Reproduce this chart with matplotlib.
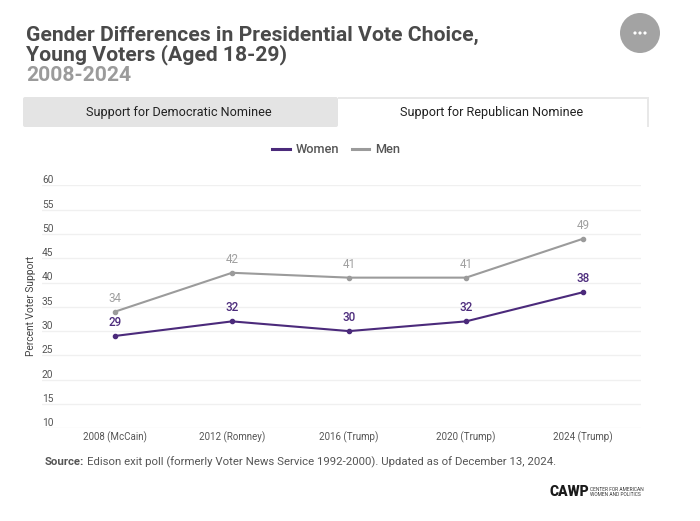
import matplotlib
matplotlib.use("Agg")
import matplotlib.pyplot as plt
from matplotlib.patches import Circle, FancyBboxPatch, Rectangle

plt.rcParams["font.family"] = ["Roboto", "DejaVu Sans"]

categories = ["2008 (McCain)", "2012 (Romney)", "2016 (Trump)", "2020 (Trump)", "2024 (Trump)"]
women = [29, 32, 30, 32, 38]
men = [34, 42, 41, 41, 49]
y_ticks = [10, 15, 20, 25, 30, 35, 40, 45, 50, 55, 60]

W, H = 700, 521
PURPLE = "#4b2a7b"
GRAY = "#9b9b9b"
x = list(range(len(categories)))

fig = plt.figure(figsize=(W / 100, H / 100), dpi=100, facecolor="white")

# page furniture in pixel coordinates
bg = fig.add_axes([0, 0, 1, 1])
bg.set_xlim(0, W)
bg.set_ylim(H, 0)
bg.axis("off")

bg.text(26, 60, "Gender Differences in Presidential Vote Choice,\nYoung Voters (Aged 18-29)",
        fontsize=15.2, fontweight="bold", color="#4a4a4a", linespacing=0.93, va="baseline")
bg.text(26, 81, "2008-2024", fontsize=15.2, fontweight="bold", color="#9b9b9b")

bg.add_patch(Circle((640, 33), 20, color="#a3a3a3", lw=0))
for dx in (-5, 0, 5):
    bg.add_patch(Circle((640 + dx, 33), 1.6, color="white", lw=0))

# tabs
bg.add_patch(FancyBboxPatch((23, 97), 315, 30, boxstyle="round,pad=0,rounding_size=2", color="#e4e4e4", lw=0))
bg.add_patch(Rectangle((338, 97), 311, 2, color="#e8e8e8", lw=0))
bg.add_patch(Rectangle((647, 97), 2, 30, color="#e8e8e8", lw=0))
bg.text(179, 112.5, "Support for Democratic Nominee", fontsize=9.1, color="#222222", ha="center", va="center")
bg.text(492, 112.5, "Support for Republican Nominee", fontsize=9.1, color="#222222", ha="center", va="center")

bg.text(45, 465, "Source:", fontsize=8.22, fontweight="bold", color="#555555")
bg.text(87, 465, "Edison exit poll (formerly Voter News Service 1992-2000). Updated as of December 13, 2024.",
        fontsize=8.22, color="#555555")

bg.text(549, 496, "CAWP", fontsize=10, fontweight="black", color="#1a1a1a")
bg.text(590, 491, "CENTER FOR AMERICAN", fontsize=3.55, color="#333333")
bg.text(590, 496, "WOMEN AND POLITICS", fontsize=3.55, color="#333333")

bg.text(31, 306, "Percent Voter Support", fontsize=7.3, color="#444444", rotation=90, ha="center", va="center")

# chart
left, right, top, bottom = 42, 641, 185.3, 428.3
ax = fig.add_axes([left / W, 1 - bottom / H, (right - left) / W, (bottom - top) / H])
ax.patch.set_alpha(0)
ax.set_xlim((left - 115) / 117, (right - 115) / 117)
ax.set_ylim(10, 60)
for spine in ax.spines.values():
    spine.set_visible(False)

ax.set_yticks(y_ticks)
ax.set_yticklabels([str(v) for v in y_ticks], ha="left", va="bottom")
ax.tick_params(axis="y", length=0, pad=0, labelsize=7.3, labelcolor="#555555")
ax.set_xticks(x)
ax.set_xticklabels(categories)
ax.tick_params(axis="x", length=0, pad=2.3, labelsize=7, labelcolor="#555555")
ax.grid(axis="y", color="#f0f0f0", lw=1)
ax.set_axisbelow(True)

ax.plot(x, men, color=GRAY, lw=1.5, marker="o", ms=3, label="Men", clip_on=False)
ax.plot(x, women, color=PURPLE, lw=1.5, marker="o", ms=3, label="Women", clip_on=False)

for i in x:
    ax.annotate(str(men[i]), (i, men[i]), xytext=(0, 5), textcoords="offset points",
                ha="center", va="bottom", fontsize=8.4, color="#a0a0a0")
    ax.annotate(str(women[i]), (i, women[i]), xytext=(0, 5), textcoords="offset points",
                ha="center", va="bottom", fontsize=8.4, fontweight="medium", color=PURPLE)

handles, labels = ax.get_legend_handles_labels()
leg = fig.legend(handles[::-1], labels[::-1], ncol=2, frameon=False, loc="center",
                 bbox_to_anchor=(336 / W, 1 - 149.5 / H), fontsize=9.2, labelcolor="#555555",
                 handlelength=1.35, handletextpad=0.45, columnspacing=1.0)
for line in leg.get_lines():
    line.set_marker("")
    line.set_linewidth(2.2)
for t in leg.get_texts():
    t.set_fontweight("medium")

fig.savefig("out.png", dpi=100)
